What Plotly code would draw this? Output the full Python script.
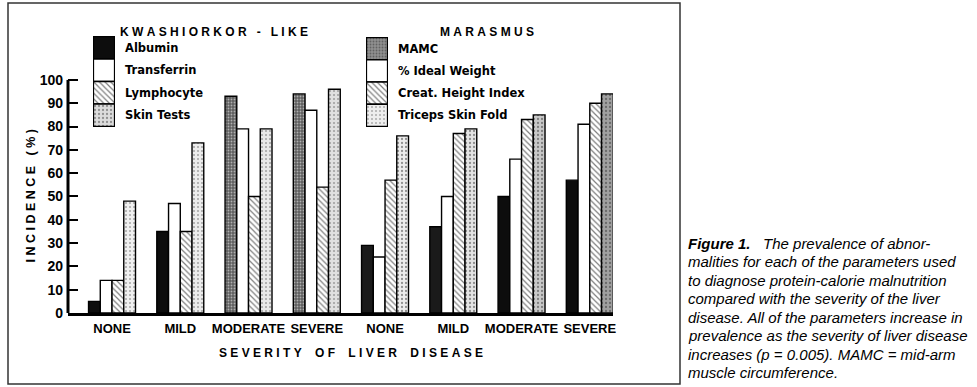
import plotly.graph_objects as go

# ---------------- data ----------------
severity = ["NONE", "MILD", "MODERATE", "SEVERE"]
kw_labels = ["Albumin", "Transferrin", "Lymphocyte", "Skin Tests"]
mar_labels = ["MAMC", "% Ideal Weight", "Creat. Height Index", "Triceps Skin Fold"]

albumin = [5, 35, 93, 94]
transferrin = [14, 47, 79, 87]
lymphocyte = [14, 35, 50, 54]
skin_tests = [48, 73, 79, 96]

mamc = [29, 37, 50, 57]
ideal_weight = [24, 50, 66, 81]
creat_height_index = [57, 77, 83, 90]
triceps_skin_fold = [76, 79, 85, 94]

y_ticks = list(range(0, 101, 10))

caption_lines = [
    "<b>Figure 1.</b>   The prevalence of abnor-",
    "malities for each of the parameters used",
    "to diagnose protein-calorie malnutrition",
    "compared with the severity of the liver",
    "disease. All of the parameters increase in",
    "prevalence as the severity of liver disease",
    "increases (p = 0.005). MAMC = mid-arm",
    "muscle circumference.",
]

# ---------------- geometry helpers ----------------
W, H = 977, 387
L, R, T, B = 68, 613, 17, 313          # plot area in pixels
PW, PH = R - L, B - T


def px(xp):
    return (xp - L) / PW


def py(yp):
    return (B - yp) / PH


NBSP = "\u00a0"


def spaced(text, gap=1, word_gap=4):
    words = text.split(" ")
    return (NBSP * word_gap).join((NBSP * gap).join(list(w)) for w in words)


kw_x = list(range(len(severity)))
mar_x = [len(severity) + i for i in range(len(severity))]
x_min, x_max = -0.645, 7.34
bar_w = 0.172

FONT = "Liberation Sans"
LINE = dict(color="black", width=1.4)

# ---------------- styles ----------------
def st_solid(color):
    return dict(color=color, line=LINE)


def st_hatch():
    return dict(color="black", line=LINE,
                pattern=dict(shape="\\", fgcolor="black", bgcolor="white",
                             size=4, solidity=0.3))


def st_dots(bg, fg="#333333", solidity=0.2, size=4):
    return dict(color=fg, line=LINE,
                pattern=dict(shape=".", fgcolor=fg, bgcolor=bg,
                             size=size, solidity=solidity))


kw_series = [albumin, transferrin, lymphocyte, skin_tests]
mar_series = [mamc, ideal_weight, creat_height_index, triceps_skin_fold]

kw_styles = [
    dict(color=["#0d0d0d", "#0d0d0d", "#5e5e5e", "#5e5e5e"], line=LINE,
         pattern=dict(shape=["", "", ".", "."], fgcolor="#1a1a1a",
                      bgcolor="#8c8c8c", size=3, solidity=0.3)),
    st_solid("white"),
    st_hatch(),
    st_dots(["#f0f0f0", "#ececec", "#e8e8e8", "#e0e0e0"], "#555555", 0.2),
]
mar_styles = [
    dict(color=["#1a1a1a", "#1a1a1a", "#0d0d0d", "#0d0d0d"], line=LINE),
    st_solid("white"),
    st_hatch(),
    st_dots(["#ececec", "#e4e4e4", "#c8c8c8", "#a0a0a0"], "#333333", 0.25),
]

fig = go.Figure()

offsets = [-2 * bar_w, -bar_w, 0, bar_w]
for name, vals, stl, off in zip(kw_labels, kw_series, kw_styles, offsets):
    fig.add_trace(go.Bar(x=kw_x, y=vals, name=name, width=bar_w, offset=off,
                         marker=stl, showlegend=False))
for name, vals, stl, off in zip(mar_labels, mar_series, mar_styles, offsets):
    fig.add_trace(go.Bar(x=mar_x, y=vals, name=name, width=bar_w, offset=off,
                         marker=stl, showlegend=False))

# ---------------- legend swatches (stacked blocks) ----------------
kw_leg_styles = [st_solid("#0d0d0d"), st_solid("white"), st_hatch(),
                 st_dots("#dcdcdc", "#444444", 0.25)]
mar_leg_styles = [st_dots("#909090", "#333333", 0.3, 3), st_solid("white"),
                  st_hatch(), st_dots("#eeeeee", "#666666", 0.2)]

n_leg = len(kw_labels)
for i, (name, stl) in enumerate(zip(kw_labels, kw_leg_styles)):
    fig.add_trace(go.Bar(x=[0], y=[1], base=[n_leg - 1 - i], width=1,
                         marker=stl, xaxis="x2", yaxis="y2",
                         showlegend=False, hoverinfo="skip", name=name))
for i, (name, stl) in enumerate(zip(mar_labels, mar_leg_styles)):
    fig.add_trace(go.Bar(x=[0], y=[1], base=[n_leg - 1 - i], width=1,
                         marker=stl, xaxis="x3", yaxis="y3",
                         showlegend=False, hoverinfo="skip", name=name))

div_pos = px(L + (3.5 - x_min) / (x_max - x_min) * PW)

hidden = dict(showline=False, showgrid=False, zeroline=False,
              showticklabels=False, ticks="")

fig.update_layout(
    width=W, height=H,
    margin=dict(l=L, r=W - R, t=T, b=H - B, pad=0),
    paper_bgcolor="white", plot_bgcolor="white",
    barmode="overlay",
    font=dict(family=FONT, color="black"),
    xaxis=dict(range=[x_min, x_max], tickvals=kw_x + mar_x,
               ticktext=severity + severity, showgrid=False, zeroline=False,
               showline=True, linewidth=3, linecolor="black", ticks="",
               tickfont=dict(family=FONT, size=13, weight="bold"),
               ticklabelstandoff=1),
    yaxis=dict(range=[0, 127], tickvals=y_ticks, showgrid=False,
               zeroline=False, showline=False, ticks="inside", ticklen=10,
               tickwidth=2, tickcolor="black",
               tickfont=dict(family=FONT, size=14, weight="bold"),
               ticklabelstandoff=4),
    yaxis4=dict(overlaying="y", anchor="free", position=div_pos,
                range=[0, 127], tickvals=y_ticks[1:], showline=True,
                linewidth=1.2, linecolor="black", ticks="outside", ticklen=4,
                tickwidth=1.2, tickcolor="black", showticklabels=False,
                showgrid=False, zeroline=False),
    yaxis5=dict(overlaying="y", anchor="free", position=div_pos,
                range=[0, 127], tickvals=y_ticks[1:], showline=False,
                ticks="inside", ticklen=4, tickwidth=1.2, tickcolor="black",
                showticklabels=False, showgrid=False, zeroline=False),
    xaxis2=dict(domain=[px(93), px(115)], range=[-0.52, 0.52], anchor="y2",
                **hidden),
    yaxis2=dict(domain=[py(127), py(36)], range=[-0.02, 4.02], anchor="x2",
                **hidden),
    xaxis3=dict(domain=[px(366), px(388)], range=[-0.52, 0.52], anchor="y3",
                **hidden),
    yaxis3=dict(domain=[py(127), py(37)], range=[-0.02, 4.02], anchor="x3",
                **hidden),
)

# left axis line only up to 100
fig.add_shape(type="line", xref="paper", yref="y", x0=0, x1=0, y0=0,
              y1=y_ticks[-1], line=dict(color="black", width=3))

# outer frame of the figure
fig.add_shape(type="rect", xref="paper", yref="paper", x0=px(8), x1=px(680),
              y0=py(384), y1=py(3), line=dict(color="#333333", width=1.5))

ann = []
# section titles
ann.append(dict(text=spaced("KWASHIORKOR - LIKE", 1, 3), xref="x", yref="paper",
                x=1.5, y=py(23), showarrow=False,
                font=dict(size=12, weight="bold")))
ann.append(dict(text=spaced("MARASMUS", 1, 3), xref="x", yref="paper",
                x=5.5, y=py(23), showarrow=False,
                font=dict(size=12, weight="bold")))
# axis titles
ann.append(dict(text=spaced("SEVERITY OF LIVER DISEASE", 1, 4), xref="x",
                yref="paper", x=3.5, y=py(362), showarrow=False,
                font=dict(size=12, weight="bold")))
ann.append(dict(text=spaced("INCIDENCE (%)", 1, 3), xref="paper", yref="y",
                x=px(22), y=50, textangle=-90, showarrow=False,
                font=dict(size=12.5, weight="bold")))
# legend labels
for i, name in enumerate(kw_labels):
    ann.append(dict(text=name, xref="paper", yref="y2", x=px(123),
                    y=n_leg - 0.5 - i, xanchor="left", showarrow=False,
                    font=dict(family="DejaVu Sans", size=11.5, weight="bold")))
for i, name in enumerate(mar_labels):
    ann.append(dict(text=name, xref="paper", yref="y3", x=px(396),
                    y=n_leg - 0.5 - i, xanchor="left", showarrow=False,
                    font=dict(family="DejaVu Sans", size=11.5, weight="bold")))
# caption
for i, line in enumerate(caption_lines):
    ann.append(dict(text="<i>" + line + "</i>", xref="paper", yref="paper",
                    x=px(686), y=py(243 + 18.5 * i), xanchor="left",
                    yanchor="middle", showarrow=False,
                    font=dict(family=FONT, size=15)))

fig.update_layout(annotations=ann)

fig.write_html("out.html", config={"displayModeBar": False},
               post_script="document.body.style.margin='0';"
                           "document.body.style.overflow='hidden';")
